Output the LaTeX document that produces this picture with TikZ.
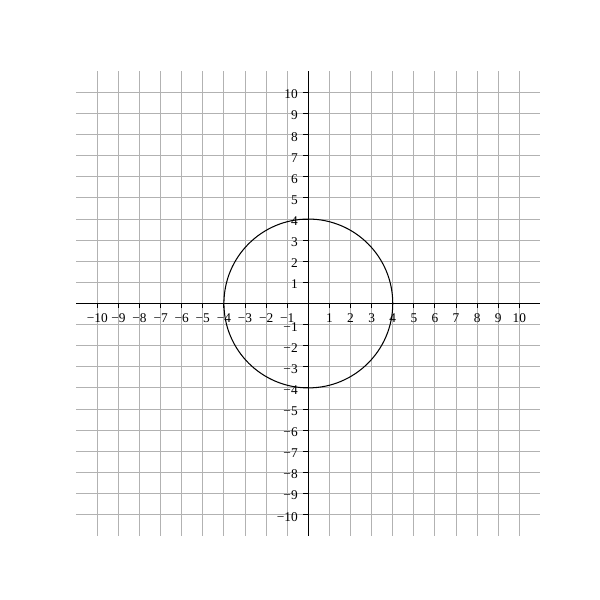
\documentclass[tikz,border=0pt]{standalone}
\usepackage{fontspec}
\setmainfont{Liberation Serif}
\definecolor{gridgray}{RGB}{178,178,178}
\tikzset{
  gridline/.style={draw=gridgray, line width=0.65pt},
  axisline/.style={draw=black, line width=0.65pt},
  tickline/.style={draw=black, line width=0.65pt},
  curve/.style={draw=black, line width=0.7pt},
  xlab/.style={anchor=north, inner sep=0pt, font=\fontsize{9}{10}\selectfont},
  ylab/.style={anchor=east, inner sep=0pt, font=\fontsize{9}{10}\selectfont}
}
\begin{document}
\begin{tikzpicture}[x=0.5cm,y=0.5cm]
\useasboundingbox (-14.61,-14.05) rectangle (13.82,14.38);
% grid
\foreach \i in {-10,...,10} {
  \draw[gridline] (\i,-11) -- (\i,11);
  \draw[gridline] (-11,\i) -- (11,\i);
}
% circle
\draw[curve] (0,0) circle (4);
% axes
\coordinate (xl) at (-11,0);
\coordinate (xr) at (11,0);
\coordinate (yb) at (0,-11);
\coordinate (yt) at (0,11);
\draw[axisline] (xl) -- (xr);
\draw[axisline] (yb) -- (yt);
% ticks and labels
\foreach \i in {-10,...,-1} {
  \draw[tickline] (\i,0) -- (\i,-0.2);
  \node[xlab] (xlab\i) at (\i,-0.45) {−\the\numexpr-\i\relax};
  \draw[tickline] (0,\i) -- (-0.25,\i);
  \node[ylab] (ylab\i) at (-0.49,\i-0.1) {−\the\numexpr-\i\relax};
}
\foreach \i in {1,...,10} {
  \draw[tickline] (\i,0) -- (\i,-0.2);
  \node[xlab] (xlab\i) at (\i,-0.45) {\i};
  \draw[tickline] (0,\i) -- (-0.25,\i);
  \node[ylab] (ylab\i) at (-0.49,\i-0.1) {\i};
}
\end{tikzpicture}
\end{document}
